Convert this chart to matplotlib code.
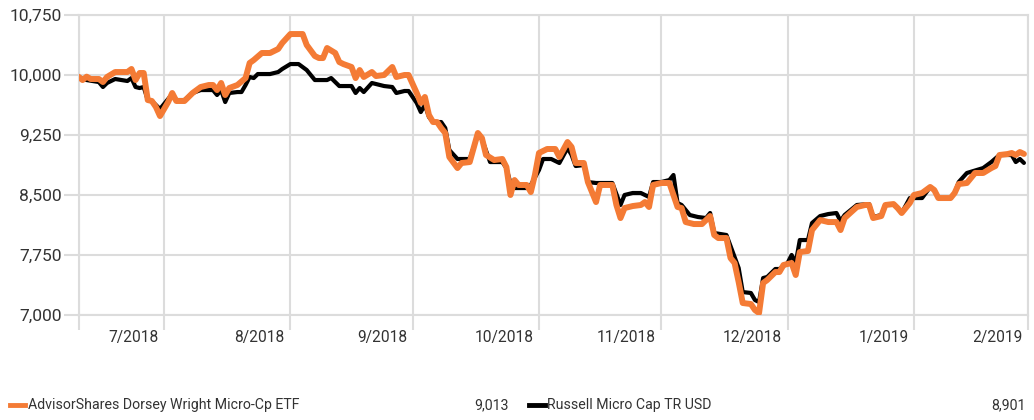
import matplotlib
matplotlib.use('Agg')
import matplotlib.pyplot as plt
import matplotlib.ticker as mticker
from matplotlib.lines import Line2D
import pandas as pd

# ETF (orange)
etf_dates = ['2018-07-11', '2018-07-12', '2018-07-13', '2018-07-14', '2018-07-16', '2018-07-17',
             '2018-07-18', '2018-07-20', '2018-07-23', '2018-07-24', '2018-07-25', '2018-07-26',
             '2018-07-27', '2018-07-28', '2018-07-29', '2018-07-30', '2018-07-31', '2018-08-02',
             '2018-08-03', '2018-08-04', '2018-08-06', '2018-08-08', '2018-08-10', '2018-08-12',
             '2018-08-13', '2018-08-14', '2018-08-15', '2018-08-16', '2018-08-17', '2018-08-19',
             '2018-08-21', '2018-08-22', '2018-08-23', '2018-08-25', '2018-08-27', '2018-08-29',
             '2018-08-30', '2018-09-01', '2018-09-04', '2018-09-05', '2018-09-07', '2018-09-08',
             '2018-09-09', '2018-09-10', '2018-09-12', '2018-09-13', '2018-09-14', '2018-09-16',
             '2018-09-17', '2018-09-18', '2018-09-19', '2018-09-21', '2018-09-22', '2018-09-24',
             '2018-09-26', '2018-09-27', '2018-09-29', '2018-09-30', '2018-10-02', '2018-10-03',
             '2018-10-04', '2018-10-05', '2018-10-06', '2018-10-07', '2018-10-08', '2018-10-09',
             '2018-10-10', '2018-10-12', '2018-10-13', '2018-10-15', '2018-10-17', '2018-10-18',
             '2018-10-19', '2018-10-21', '2018-10-23', '2018-10-24', '2018-10-25', '2018-10-26',
             '2018-10-27', '2018-10-29', '2018-10-30', '2018-10-31', '2018-11-01', '2018-11-03',
             '2018-11-05', '2018-11-06', '2018-11-08', '2018-11-09', '2018-11-10', '2018-11-12',
             '2018-11-13', '2018-11-15', '2018-11-16', '2018-11-19', '2018-11-20', '2018-11-21',
             '2018-11-22', '2018-11-24', '2018-11-26', '2018-11-27', '2018-11-28', '2018-11-29',
             '2018-12-01', '2018-12-03', '2018-12-05', '2018-12-06', '2018-12-07', '2018-12-09',
             '2018-12-11', '2018-12-13', '2018-12-14', '2018-12-15', '2018-12-17', '2018-12-18',
             '2018-12-19', '2018-12-20', '2018-12-21', '2018-12-23', '2018-12-24', '2018-12-25',
             '2018-12-26', '2018-12-27', '2018-12-29', '2018-12-30', '2018-12-31', '2019-01-02',
             '2019-01-03', '2019-01-04', '2019-01-06', '2019-01-07', '2019-01-09', '2019-01-11',
             '2019-01-13', '2019-01-14', '2019-01-15', '2019-01-18', '2019-01-20', '2019-01-21',
             '2019-01-22', '2019-01-24', '2019-01-25', '2019-01-27', '2019-01-28', '2019-01-29',
             '2019-01-31', '2019-02-01', '2019-02-03', '2019-02-05', '2019-02-06', '2019-02-07',
             '2019-02-10', '2019-02-11', '2019-02-12', '2019-02-14', '2019-02-16', '2019-02-18',
             '2019-02-20', '2019-02-21', '2019-02-22', '2019-02-24', '2019-02-25', '2019-02-26',
             '2019-02-27', '2019-02-28']
etf_vals = [9979, 9937, 9979, 9950, 9950, 9912,
            9975, 10037, 10037, 10075, 9937, 10025,
            10025, 9687, 9675, 9600, 9487, 9662,
            9775, 9675, 9675, 9775, 9850, 9875,
            9875, 9812, 9900, 9750, 9837, 9875,
            9962, 10150, 10187, 10275, 10275, 10325,
            10400, 10512, 10512, 10375, 10237, 10212,
            10212, 10337, 10275, 10162, 10137, 10100,
            9962, 10062, 9975, 10037, 9987, 10000,
            10100, 9975, 10000, 10000, 9775, 9650,
            9725, 9500, 9412, 9412, 9337, 9275,
            8975, 8837, 8900, 8912, 9275, 9212,
            9000, 8937, 8950, 8850, 8500, 8687,
            8625, 8625, 8537, 8750, 9025, 9075,
            9075, 8975, 9162, 9100, 8900, 8900,
            8662, 8412, 8625, 8625, 8375, 8212,
            8337, 8362, 8375, 8412, 8350, 8625,
            8650, 8650, 8350, 8337, 8162, 8137,
            8137, 8237, 8000, 7962, 7962, 7712,
            7650, 7412, 7150, 7137, 7062, 7025,
            7400, 7437, 7537, 7537, 7625, 7650,
            7500, 7787, 7800, 8062, 8187, 8162,
            8162, 8062, 8212, 8350, 8375, 8375,
            8212, 8237, 8375, 8387, 8337, 8275,
            8400, 8500, 8525, 8600, 8562, 8462,
            8462, 8525, 8637, 8650, 8775, 8775,
            8837, 8862, 9000, 9012, 9025, 9000,
            9037, 9013]

# Index (black)
idx_dates = ['2018-07-11', '2018-07-13', '2018-07-16', '2018-07-17', '2018-07-18', '2018-07-20',
             '2018-07-23', '2018-07-24', '2018-07-25', '2018-07-26', '2018-07-27', '2018-07-28',
             '2018-07-29', '2018-07-30', '2018-07-31', '2018-08-02', '2018-08-03', '2018-08-04',
             '2018-08-06', '2018-08-08', '2018-08-10', '2018-08-12', '2018-08-13', '2018-08-14',
             '2018-08-15', '2018-08-16', '2018-08-17', '2018-08-19', '2018-08-20', '2018-08-21',
             '2018-08-22', '2018-08-23', '2018-08-24', '2018-08-27', '2018-08-29', '2018-08-30',
             '2018-09-01', '2018-09-03', '2018-09-05', '2018-09-07', '2018-09-10', '2018-09-11',
             '2018-09-13', '2018-09-16', '2018-09-17', '2018-09-18', '2018-09-19', '2018-09-21',
             '2018-09-24', '2018-09-26', '2018-09-27', '2018-09-29', '2018-09-30', '2018-10-02',
             '2018-10-03', '2018-10-04', '2018-10-05', '2018-10-06', '2018-10-08', '2018-10-09',
             '2018-10-10', '2018-10-12', '2018-10-15', '2018-10-17', '2018-10-18', '2018-10-20',
             '2018-10-23', '2018-10-24', '2018-10-25', '2018-10-26', '2018-10-29', '2018-10-30',
             '2018-11-01', '2018-11-02', '2018-11-04', '2018-11-06', '2018-11-08', '2018-11-09',
             '2018-11-10', '2018-11-12', '2018-11-13', '2018-11-15', '2018-11-19', '2018-11-21',
             '2018-11-22', '2018-11-24', '2018-11-26', '2018-11-28', '2018-11-29', '2018-12-01',
             '2018-12-03', '2018-12-04', '2018-12-05', '2018-12-06', '2018-12-08', '2018-12-10',
             '2018-12-12', '2018-12-13', '2018-12-14', '2018-12-17', '2018-12-19', '2018-12-20',
             '2018-12-21', '2018-12-23', '2018-12-24', '2018-12-25', '2018-12-26', '2018-12-27',
             '2018-12-29', '2018-12-30', '2019-01-01', '2019-01-02', '2019-01-03', '2019-01-04',
             '2019-01-06', '2019-01-07', '2019-01-09', '2019-01-11', '2019-01-13', '2019-01-14',
             '2019-01-15', '2019-01-18', '2019-01-21', '2019-01-22', '2019-01-24', '2019-01-25',
             '2019-01-27', '2019-01-28', '2019-01-29', '2019-01-31', '2019-02-03', '2019-02-05',
             '2019-02-06', '2019-02-07', '2019-02-10', '2019-02-11', '2019-02-12', '2019-02-14',
             '2019-02-18', '2019-02-20', '2019-02-22', '2019-02-25', '2019-02-26', '2019-02-27',
             '2019-02-28']
idx_vals = [9975, 9937, 9912, 9850, 9900, 9950,
            9925, 9962, 9850, 9837, 9850, 9687,
            9675, 9625, 9575, 9700, 9760, 9687,
            9687, 9775, 9812, 9812, 9812, 9750,
            9812, 9662, 9775, 9787, 9787, 9875,
            9975, 9962, 10012, 10012, 10037, 10075,
            10137, 10137, 10062, 9937, 9937, 9962,
            9862, 9862, 9775, 9837, 9787, 9900,
            9862, 9850, 9775, 9800, 9800, 9650,
            9537, 9625, 9475, 9412, 9412, 9337,
            9062, 8950, 8950, 9250, 9200, 8912,
            8912, 8837, 8650, 8587, 8587, 8625,
            8812, 8950, 8950, 8900, 9087, 9000,
            8862, 8875, 8662, 8650, 8650, 8375,
            8500, 8525, 8525, 8475, 8662, 8662,
            8687, 8750, 8400, 8375, 8250, 8225,
            8212, 8275, 8025, 8000, 7725, 7587,
            7287, 7275, 7187, 7162, 7462, 7475,
            7575, 7575, 7650, 7750, 7650, 7937,
            7937, 8150, 8237, 8262, 8275, 8175,
            8250, 8375, 8387, 8225, 8250, 8375,
            8387, 8337, 8275, 8462, 8462, 8600,
            8562, 8462, 8462, 8525, 8662, 8775,
            8837, 8912, 9000, 9000, 8912, 8950,
            8901]

month_starts = ['2018-08-01', '2018-09-01', '2018-10-01', '2018-11-01',
                '2018-12-01', '2019-01-01', '2019-02-01', '2019-03-01']
month_labels = ['7/2018', '8/2018', '9/2018', '10/2018', '11/2018', '12/2018', '1/2019', '2/2019']
y_ticks = [7000, 7750, 8500, 9250, 10000, 10750]

etf_name = 'AdvisorShares Dorsey Wright Micro-Cp ETF'
idx_name = 'Russell Micro Cap TR USD'
etf_end = '9,013'
idx_end = '8,901'

orange = '#f47b35'
grid_c = '#dcdcdc'
text_c = '#333333'

plt.rcParams['font.family'] = ['Roboto', 'DejaVu Sans']

W, H = 1034, 420
fig = plt.figure(figsize=(W / 100, H / 100), dpi=100)
ax = fig.add_axes([79 / W, 105 / H, 949 / W, 300 / H])

start = pd.Timestamp('2018-07-11 03:00')
ms = pd.to_datetime(month_starts)

ax.plot(pd.to_datetime(idx_dates), idx_vals, color='black', lw=3,
        solid_joinstyle='round', solid_capstyle='round', zorder=3)
ax.plot(pd.to_datetime(etf_dates), etf_vals, color=orange, lw=4.3,
        solid_joinstyle='round', solid_capstyle='round', zorder=4)

ax.set_xlim(start, ms[-1])
ax.set_ylim(7000, 10750)

ax.set_yticks(y_ticks)
ax.yaxis.set_major_formatter(mticker.FuncFormatter(lambda v, p: f'{int(v):,}'))
ax.set_xticks([start] + list(ms))
ax.set_xticklabels([])
ax.grid(True, color=grid_c, lw=1.5, zorder=0)
ax.tick_params(axis='both', length=11, width=1.5, color=grid_c)
ax.tick_params(axis='y', pad=1.5, labelsize=12.5, labelcolor=text_c)
for s in ax.spines.values():
    s.set_color(grid_c)
    s.set_linewidth(1.5)

for d, lab in zip(ms, month_labels):
    ax.annotate(lab, xy=(d, 0), xycoords=('data', 'axes fraction'),
                xytext=(-4, -10.5), textcoords='offset points',
                ha='right', va='top', fontsize=11.2, color=text_c)

# legend row
ly = 1 - 405 / H
fig.add_artist(Line2D([10 / W, 25 / W], [ly, ly], color=orange, lw=3.5))
fig.text(28 / W, ly, etf_name, ha='left', va='center', fontsize=10.2, color=text_c)
fig.text(509 / W, ly, etf_end, ha='right', va='center', fontsize=10.2, color=text_c)
fig.add_artist(Line2D([529 / W, 545 / W], [ly, ly], color='black', lw=3.5))
fig.text(547 / W, ly, idx_name, ha='left', va='center', fontsize=10.2, color=text_c)
fig.text(1026 / W, ly, idx_end, ha='right', va='center', fontsize=10.2, color=text_c)

fig.savefig('out.png', dpi=100)
